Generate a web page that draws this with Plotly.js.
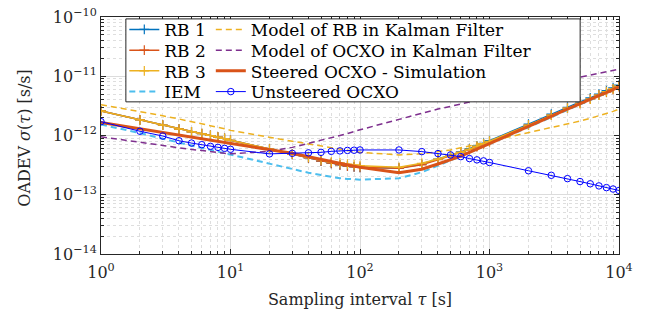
<!DOCTYPE html>
<html>
<head>
<meta charset="utf-8">
<script src="https://cdn.plot.ly/plotly-3.0.1.min.js"></script>
<style>html,body{margin:0;padding:0;background:#fff;}#chart{width:651px;height:322px;}</style>
</head>
<body>
<div id="chart"></div>
<script>
// Sampling intervals (s)
const tau = [1,2,3,4,5,6,7,8,9,10,20,30,40,50,60,70,80,90,100,200,300,400,500,600,700,800,900,1000,2000,3000,4000,5000,6000,7000,8000,9000,10000];

// OADEV values (s/s)
const rb1 = [2.6e-12,1.84e-12,1.5e-12,1.28e-12,1.15e-12,1.07e-12,1.0e-12,0.94e-12,0.89e-12,0.83e-12,0.59e-12,0.48e-12,0.42e-12,0.37e-12,0.34e-12,0.32e-12,0.305e-12,0.295e-12,0.29e-12,0.28e-12,0.33e-12,0.40e-12,0.46e-12,0.53e-12,0.60e-12,0.67e-12,0.74e-12,0.82e-12,1.55e-12,2.3e-12,3.0e-12,3.7e-12,4.3e-12,5.0e-12,5.7e-12,6.4e-12,7.1e-12];
const rb2 = [2.6e-12,1.84e-12,1.5e-12,1.28e-12,1.15e-12,1.07e-12,1.0e-12,0.94e-12,0.89e-12,0.83e-12,0.59e-12,0.48e-12,0.42e-12,0.37e-12,0.34e-12,0.32e-12,0.305e-12,0.295e-12,0.29e-12,0.28e-12,0.32e-12,0.39e-12,0.45e-12,0.52e-12,0.58e-12,0.65e-12,0.72e-12,0.79e-12,1.5e-12,2.2e-12,2.9e-12,3.5e-12,4.1e-12,4.8e-12,5.4e-12,6.0e-12,6.7e-12];
const rb3 = [2.6e-12,1.84e-12,1.5e-12,1.28e-12,1.15e-12,1.07e-12,1.0e-12,0.94e-12,0.89e-12,0.83e-12,0.59e-12,0.49e-12,0.43e-12,0.39e-12,0.36e-12,0.345e-12,0.33e-12,0.32e-12,0.31e-12,0.29e-12,0.34e-12,0.40e-12,0.46e-12,0.52e-12,0.59e-12,0.66e-12,0.73e-12,0.80e-12,1.5e-12,2.2e-12,2.9e-12,3.5e-12,4.1e-12,4.8e-12,5.5e-12,6.1e-12,6.8e-12];
const iem = [1.53e-12,1.1e-12,0.88e-12,0.76e-12,0.68e-12,0.62e-12,0.57e-12,0.53e-12,0.50e-12,0.47e-12,0.33e-12,0.27e-12,0.235e-12,0.215e-12,0.20e-12,0.19e-12,0.185e-12,0.182e-12,0.18e-12,0.19e-12,0.24e-12,0.31e-12,0.38e-12,0.45e-12,0.51e-12,0.58e-12,0.65e-12,0.72e-12,1.38e-12,2.05e-12,2.75e-12,3.35e-12,3.95e-12,4.6e-12,5.2e-12,5.9e-12,6.5e-12];
const modelRb = [3.3e-12,2.55e-12,2.15e-12,1.9e-12,1.72e-12,1.58e-12,1.47e-12,1.38e-12,1.3e-12,1.22e-12,0.92e-12,0.8e-12,0.72e-12,0.66e-12,0.62e-12,0.58e-12,0.56e-12,0.54e-12,0.52e-12,0.47e-12,0.49e-12,0.53e-12,0.57e-12,0.62e-12,0.66e-12,0.71e-12,0.76e-12,0.80e-12,1.1e-12,1.35e-12,1.55e-12,1.75e-12,1.95e-12,2.15e-12,2.35e-12,2.55e-12,2.8e-12];
const modelOcxo = [0.95e-12,0.78e-12,0.68e-12,0.62e-12,0.58e-12,0.55e-12,0.53e-12,0.51e-12,0.50e-12,0.49e-12,0.54e-12,0.63e-12,0.73e-12,0.82e-12,0.92e-12,1.0e-12,1.08e-12,1.17e-12,1.25e-12,1.87e-12,2.4e-12,2.8e-12,3.1e-12,3.4e-12,3.7e-12,3.95e-12,4.2e-12,4.45e-12,6.3e-12,7.6e-12,8.7e-12,9.6e-12,1.05e-11,1.12e-11,1.2e-11,1.26e-11,1.32e-11];
const steered = [1.66e-12,1.30e-12,1.12e-12,1.0e-12,0.93e-12,0.87e-12,0.82e-12,0.78e-12,0.75e-12,0.72e-12,0.58e-12,0.50e-12,0.44e-12,0.40e-12,0.37e-12,0.345e-12,0.325e-12,0.305e-12,0.29e-12,0.235e-12,0.27e-12,0.33e-12,0.39e-12,0.45e-12,0.52e-12,0.59e-12,0.66e-12,0.74e-12,1.4e-12,2.1e-12,2.8e-12,3.4e-12,4.0e-12,4.7e-12,5.3e-12,6.0e-12,6.6e-12];
const unsteered = [1.71e-12,1.18e-12,0.98e-12,0.815e-12,0.745e-12,0.70e-12,0.656e-12,0.63e-12,0.607e-12,0.585e-12,0.49e-12,0.50e-12,0.51e-12,0.52e-12,0.54e-12,0.55e-12,0.56e-12,0.565e-12,0.57e-12,0.57e-12,0.535e-12,0.495e-12,0.47e-12,0.44e-12,0.408e-12,0.388e-12,0.373e-12,0.35e-12,0.254e-12,0.213e-12,0.187e-12,0.167e-12,0.153e-12,0.141e-12,0.132e-12,0.125e-12,0.118e-12];

const seriesNames = ['RB 1','RB 2','RB 3','IEM','Model of RB in Kalman Filter','Model of OCXO in Kalman Filter','Steered OCXO - Simulation','Unsteered OCXO'];

const xTickVals = [1,10,100,1000,10000];
const xTickText = ['10<sup>0</sup>','10<sup>1</sup>','10<sup>2</sup>','10<sup>3</sup>','10<sup>4</sup>'];
const yTickVals = [1e-14,1e-13,1e-12,1e-11,1e-10];
const yTickText = ['10<sup>−14</sup>','10<sup>−13</sup>','10<sup>−12</sup>','10<sup>−11</sup>','10<sup>−10</sup>'];

function minorVals(lo, hi) {
  const v = [];
  for (let e = lo; e < hi; e++) for (let m = 2; m <= 9; m++) v.push(m * Math.pow(10, e));
  return v;
}

const FONT = "'DejaVu Serif', 'Liberation Serif', serif";
const FS = 16;
const LFS = 17;
const plusMarker = c => ({symbol: 'cross-thin', size: 7, line: {color: c, width: 1.2}, color: c});

const traces = [
  {x: tau, y: rb1, mode: 'lines+markers', line: {color: '#0072BD', width: 1.5}, marker: plusMarker('#0072BD')},
  {x: tau, y: rb2, mode: 'lines+markers', line: {color: '#D95319', width: 1.5}, marker: plusMarker('#D95319')},
  {x: tau, y: rb3, mode: 'lines+markers', line: {color: '#EDB120', width: 1.5}, marker: plusMarker('#EDB120')},
  {x: tau, y: iem, mode: 'lines', line: {color: '#4DBEEE', width: 2, dash: '6px,4px'}},
  {x: tau, y: modelRb, mode: 'lines', line: {color: '#EDB120', width: 1.5, dash: '6px,4px'}},
  {x: tau, y: modelOcxo, mode: 'lines', line: {color: '#7E2F8E', width: 1.5, dash: '6px,4px'}},
  {x: tau, y: steered, mode: 'lines', line: {color: '#D95319', width: 3}},
  {x: tau, y: unsteered, mode: 'lines+markers', line: {color: '#0000FF', width: 1}, marker: {symbol: 'circle-open', size: 6.5, color: '#0000FF', line: {width: 1}}}
];

// one legend per entry so that the two columns and row spacing match the reference
const rowY = [0.9458, 0.8583, 0.7708, 0.6833];
const colX = [0.045, 0.212];
const layoutLegends = {};
traces.forEach((t, i) => {
  const key = i === 0 ? 'legend' : 'legend' + (i + 1);
  t.name = seriesNames[i];
  t.legend = key;
  layoutLegends[key] = {
    x: colX[Math.floor(i / 4)], y: rowY[i % 4], xanchor: 'left', yanchor: 'middle',
    bgcolor: 'rgba(0,0,0,0)', borderwidth: 0,
    font: {family: FONT, size: LFS, color: '#000'}, itemwidth: 30
  };
});

const axisCommon = {
  type: 'log', showline: true, linecolor: '#262626', linewidth: 1, mirror: 'ticks',
  ticks: 'inside', ticklen: 5, tickcolor: '#262626',
  showgrid: true, gridcolor: '#dcdcdc', gridwidth: 1, zeroline: false,
  tickfont: {family: FONT, size: FS, color: '#262626'}, tickmode: 'array'
};

const layout = Object.assign({
  width: 651, height: 322,
  margin: {l: 101, r: 32, t: 14, b: 68},
  paper_bgcolor: '#fff', plot_bgcolor: '#fff',
  font: {family: FONT, color: '#262626', size: FS},
  xaxis: Object.assign({}, axisCommon, {
    range: [0, 4], tickvals: xTickVals, ticktext: xTickText, ticklabelstandoff: 4,
    minor: {tickmode: 'array', tickvals: minorVals(0, 4), ticks: 'inside', ticklen: 3, tickcolor: '#262626', showgrid: true, gridcolor: '#dedede', griddash: 'dot', gridwidth: 1},
    title: {text: 'Sampling interval <i>τ</i> [s]', font: {family: FONT, size: FS, color: '#262626'}, standoff: 12}
  }),
  yaxis: Object.assign({}, axisCommon, {
    range: [-14, -10], tickvals: yTickVals, ticktext: yTickText,
    minor: {tickmode: 'array', tickvals: minorVals(-14, -10), ticks: 'inside', ticklen: 3, tickcolor: '#262626', showgrid: true, gridcolor: '#dedede', griddash: 'dot', gridwidth: 1}
  }),
  annotations: [{
    text: 'OADEV <i>σ</i>(<i>τ</i>) [s/s]', xref: 'paper', yref: 'paper', x: -0.147, y: 0.49,
    xanchor: 'center', yanchor: 'middle', textangle: -90, showarrow: false,
    font: {family: FONT, size: FS, color: '#262626'}
  }],
  shapes: [{type: 'rect', xref: 'paper', yref: 'paper', x0: 0.048, x1: 0.925, y0: 0.642, y1: 0.992, fillcolor: '#fff', line: {color: '#262626', width: 1}, layer: 'above'}],
  showlegend: true
}, layoutLegends);

Plotly.newPlot('chart', traces, layout, {displayModeBar: false, staticPlot: true});
</script>
</body>
</html>
